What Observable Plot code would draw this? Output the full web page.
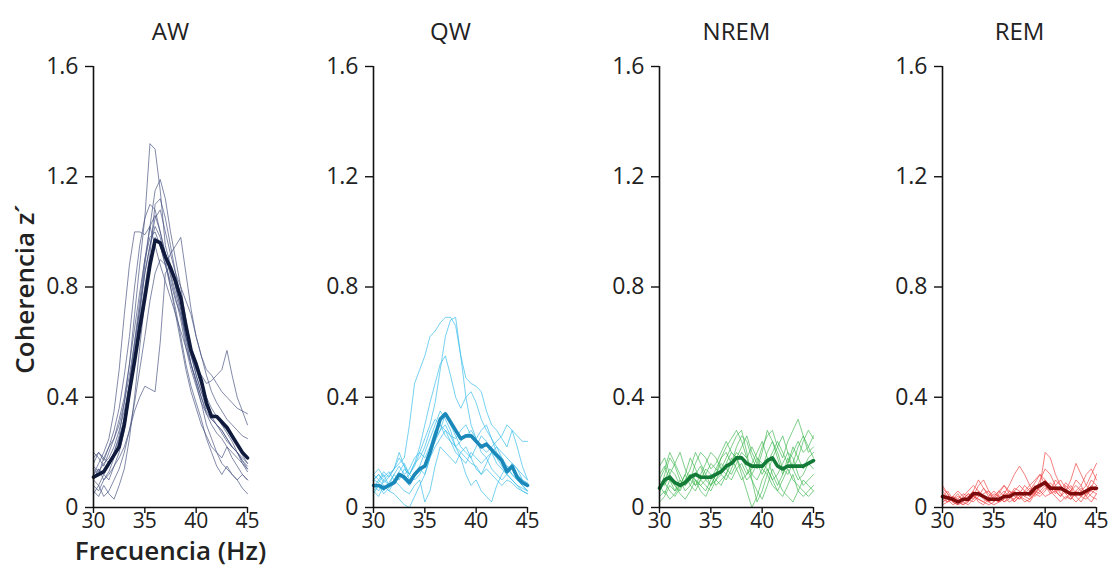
<!DOCTYPE html>
<html>
<head>
<meta charset="utf-8">
<script src="https://cdn.jsdelivr.net/npm/d3@7"></script>
<script src="https://cdn.jsdelivr.net/npm/@observablehq/plot@0.6"></script>
<style>
  html, body { margin: 0; padding: 0; background: #fff; }
  #wrap { position: relative; width: 1116px; height: 571px; overflow: hidden; font-family: "Open Sans", sans-serif; }
  .panel { position: absolute; top: 0; width: 277px; }
  .panel svg { overflow: visible; max-width: none !important; }
</style>
</head>
<body>
<div id="wrap"></div>
<script>
// ---- data ----
const states = ["AW", "QW", "NREM", "REM"];
const freqHz = [30,30.5,31,31.5,32,32.5,33,33.5,34,34.5,35,35.5,36,36.5,37,37.5,38,38.5,39,39.5,40,40.5,41,41.5,42,42.5,43,43.5,44,44.5,45];
const xTicks = [30, 35, 40, 45];
const yTicks = [0, 0.4, 0.8, 1.2, 1.6];
const yLabel = "Coherencia z´";
const xLabel = "Frecuencia (Hz)";

const awMean = [0.11,0.12,0.13,0.16,0.19,0.22,0.30,0.42,0.53,0.65,0.76,0.88,0.97,0.96,0.91,0.87,0.82,0.76,0.66,0.57,0.52,0.46,0.38,0.33,0.33,0.31,0.29,0.26,0.23,0.20,0.18];
const awTraces = [
  [0.10,0.14,0.12,0.15,0.20,0.26,0.38,0.52,0.70,0.88,1.05,1.32,1.30,1.15,0.95,0.88,0.80,0.72,0.62,0.55,0.48,0.42,0.38,0.33,0.30,0.28,0.25,0.22,0.20,0.17,0.15],
  [0.15,0.13,0.16,0.18,0.22,0.28,0.35,0.45,0.58,0.72,0.88,1.02,1.15,1.19,1.12,1.00,0.90,0.80,0.68,0.58,0.50,0.44,0.40,0.36,0.33,0.30,0.27,0.24,0.20,0.17,0.14],
  [0.18,0.20,0.17,0.22,0.28,0.36,0.48,0.62,0.80,0.95,1.05,1.10,1.08,1.00,0.92,0.85,0.78,0.70,0.60,0.52,0.46,0.40,0.35,0.32,0.30,0.28,0.25,0.22,0.20,0.18,0.16],
  [0.12,0.16,0.20,0.25,0.35,0.50,0.70,0.88,1.00,1.00,0.99,1.02,0.95,0.88,0.82,0.76,0.70,0.64,0.58,0.52,0.46,0.40,0.34,0.30,0.27,0.25,0.22,0.20,0.18,0.16,0.14],
  [0.08,0.06,0.10,0.12,0.15,0.18,0.22,0.28,0.35,0.40,0.44,0.43,0.42,0.60,0.85,0.88,0.80,0.72,0.62,0.52,0.45,0.38,0.30,0.25,0.20,0.18,0.22,0.18,0.15,0.12,0.10],
  [0.20,0.18,0.15,0.20,0.25,0.32,0.40,0.52,0.65,0.78,0.90,0.98,1.00,0.95,0.88,0.82,0.75,0.70,0.62,0.55,0.50,0.48,0.45,0.46,0.48,0.50,0.57,0.48,0.40,0.35,0.30],
  [0.10,0.08,0.12,0.10,0.15,0.20,0.28,0.40,0.55,0.70,0.85,0.95,1.02,0.98,0.90,0.80,0.70,0.60,0.50,0.42,0.36,0.30,0.26,0.22,0.20,0.16,0.14,0.12,0.10,0.07,0.05],
  [0.05,0.08,0.04,0.06,0.10,0.14,0.20,0.28,0.38,0.50,0.62,0.75,0.85,0.90,0.88,0.92,0.95,0.98,0.85,0.72,0.62,0.55,0.48,0.42,0.38,0.35,0.32,0.30,0.28,0.26,0.25],
  [0.12,0.14,0.10,0.13,0.18,0.24,0.33,0.45,0.60,0.75,0.90,1.02,1.06,1.00,0.92,0.84,0.76,0.68,0.58,0.50,0.44,0.38,0.34,0.32,0.30,0.27,0.24,0.22,0.20,0.16,0.13],
  [0.06,0.04,0.08,0.05,0.03,0.08,0.14,0.25,0.40,0.58,0.75,0.90,0.98,0.95,0.88,0.80,0.72,0.62,0.52,0.44,0.38,0.32,0.25,0.20,0.15,0.12,0.15,0.12,0.10,0.12,0.10],
  [0.16,0.20,0.18,0.22,0.25,0.30,0.38,0.48,0.60,0.72,0.85,0.95,1.05,1.08,1.00,0.92,0.85,0.80,0.75,0.70,0.62,0.55,0.50,0.48,0.45,0.42,0.40,0.38,0.36,0.35,0.34],
  [0.14,0.12,0.18,0.16,0.20,0.25,0.32,0.42,0.55,0.68,0.80,0.92,1.10,1.12,1.05,0.95,0.85,0.76,0.66,0.56,0.48,0.42,0.36,0.34,0.33,0.30,0.28,0.25,0.22,0.19,0.16]
];

const qwMean = [0.08,0.08,0.07,0.08,0.09,0.12,0.11,0.09,0.12,0.14,0.15,0.20,0.26,0.32,0.34,0.31,0.28,0.25,0.26,0.26,0.24,0.22,0.23,0.21,0.19,0.17,0.13,0.15,0.11,0.09,0.08];
const qwTraces = [
  [0.10,0.12,0.10,0.12,0.14,0.16,0.18,0.30,0.45,0.50,0.55,0.62,0.64,0.67,0.69,0.69,0.66,0.55,0.47,0.45,0.44,0.42,0.35,0.30,0.28,0.25,0.22,0.28,0.26,0.24,0.24],
  [0.06,0.08,0.05,0.07,0.10,0.12,0.10,0.12,0.15,0.20,0.25,0.30,0.38,0.50,0.62,0.68,0.69,0.55,0.40,0.30,0.25,0.28,0.30,0.25,0.20,0.18,0.15,0.14,0.12,0.10,0.08],
  [0.12,0.10,0.13,0.11,0.14,0.18,0.15,0.12,0.16,0.22,0.30,0.38,0.45,0.52,0.55,0.48,0.40,0.36,0.40,0.42,0.38,0.32,0.28,0.25,0.22,0.20,0.18,0.16,0.14,0.12,0.10],
  [0.06,0.04,0.08,0.06,0.05,0.03,0.01,0.00,0.04,0.08,0.12,0.18,0.25,0.28,0.30,0.26,0.22,0.20,0.18,0.16,0.15,0.12,0.14,0.12,0.10,0.08,0.10,0.09,0.07,0.06,0.05],
  [0.10,0.12,0.09,0.11,0.14,0.20,0.15,0.10,0.12,0.15,0.20,0.25,0.30,0.35,0.32,0.28,0.22,0.18,0.12,0.08,0.10,0.06,0.04,0.02,0.08,0.12,0.15,0.12,0.10,0.08,0.06],
  [0.08,0.06,0.10,0.08,0.12,0.10,0.14,0.12,0.16,0.18,0.22,0.28,0.32,0.30,0.28,0.26,0.25,0.28,0.30,0.26,0.24,0.22,0.20,0.22,0.24,0.26,0.30,0.28,0.22,0.15,0.10],
  [0.12,0.14,0.11,0.13,0.10,0.08,0.06,0.05,0.08,0.10,0.02,0.06,0.15,0.22,0.20,0.18,0.16,0.20,0.22,0.18,0.14,0.12,0.16,0.20,0.18,0.15,0.12,0.10,0.08,0.07,0.06],
  [0.05,0.08,0.06,0.09,0.12,0.15,0.12,0.14,0.18,0.20,0.18,0.22,0.28,0.30,0.26,0.24,0.22,0.24,0.26,0.28,0.25,0.20,0.18,0.20,0.22,0.18,0.14,0.12,0.10,0.08,0.06],
  [0.10,0.09,0.12,0.08,0.10,0.13,0.16,0.12,0.10,0.12,0.16,0.20,0.24,0.28,0.34,0.30,0.26,0.22,0.20,0.18,0.22,0.26,0.24,0.20,0.16,0.14,0.12,0.16,0.14,0.10,0.09],
  [0.07,0.10,0.08,0.06,0.09,0.12,0.10,0.08,0.11,0.14,0.12,0.18,0.22,0.25,0.28,0.24,0.20,0.18,0.16,0.20,0.18,0.16,0.18,0.14,0.12,0.10,0.12,0.10,0.08,0.06,0.05]
];

const nremMean = [0.07,0.10,0.11,0.09,0.08,0.09,0.11,0.12,0.11,0.11,0.11,0.12,0.13,0.15,0.16,0.18,0.18,0.16,0.15,0.15,0.15,0.17,0.18,0.15,0.14,0.15,0.15,0.15,0.15,0.16,0.17];
const nremTraces = [
  [0.05,0.12,0.18,0.15,0.10,0.06,0.08,0.12,0.15,0.10,0.08,0.12,0.18,0.22,0.25,0.28,0.24,0.18,0.12,0.16,0.22,0.26,0.28,0.22,0.18,0.24,0.28,0.32,0.26,0.20,0.22],
  [0.10,0.08,0.12,0.16,0.20,0.14,0.10,0.08,0.12,0.16,0.20,0.18,0.14,0.18,0.22,0.26,0.28,0.20,0.10,0.02,0.06,0.12,0.18,0.22,0.26,0.20,0.14,0.18,0.24,0.28,0.25],
  [0.08,0.05,0.10,0.08,0.05,0.03,0.06,0.10,0.08,0.06,0.10,0.14,0.12,0.10,0.14,0.18,0.12,0.06,0.00,0.04,0.10,0.14,0.10,0.06,0.04,0.08,0.12,0.06,0.04,0.06,0.08],
  [0.12,0.15,0.10,0.06,0.08,0.12,0.18,0.14,0.10,0.12,0.16,0.14,0.18,0.20,0.16,0.22,0.26,0.24,0.18,0.14,0.20,0.28,0.24,0.18,0.12,0.16,0.22,0.18,0.14,0.18,0.20],
  [0.06,0.10,0.14,0.12,0.08,0.10,0.14,0.20,0.16,0.12,0.08,0.10,0.14,0.12,0.16,0.20,0.18,0.14,0.10,0.06,0.03,0.08,0.14,0.10,0.06,0.04,0.02,0.06,0.10,0.08,0.06],
  [0.02,0.04,0.08,0.06,0.10,0.08,0.12,0.10,0.06,0.04,0.08,0.12,0.16,0.14,0.12,0.16,0.20,0.18,0.22,0.18,0.14,0.20,0.24,0.20,0.14,0.12,0.16,0.22,0.26,0.22,0.18],
  [0.15,0.18,0.12,0.08,0.06,0.10,0.12,0.08,0.10,0.14,0.12,0.08,0.10,0.12,0.18,0.14,0.10,0.12,0.16,0.20,0.24,0.18,0.12,0.08,0.12,0.18,0.14,0.10,0.12,0.16,0.14],
  [0.04,0.06,0.03,0.05,0.08,0.12,0.08,0.06,0.10,0.08,0.06,0.10,0.08,0.12,0.10,0.14,0.16,0.12,0.14,0.18,0.16,0.14,0.10,0.12,0.16,0.20,0.18,0.12,0.08,0.10,0.12],
  [0.10,0.14,0.20,0.16,0.12,0.08,0.10,0.16,0.20,0.18,0.14,0.16,0.20,0.24,0.20,0.18,0.22,0.26,0.20,0.16,0.12,0.16,0.20,0.24,0.20,0.16,0.20,0.24,0.20,0.22,0.26],
  [0.07,0.09,0.06,0.04,0.07,0.09,0.12,0.10,0.08,0.10,0.12,0.10,0.12,0.16,0.20,0.18,0.14,0.10,0.12,0.10,0.14,0.12,0.08,0.06,0.10,0.14,0.10,0.08,0.06,0.04,0.06]
];

const remMean = [0.04,0.035,0.03,0.02,0.03,0.03,0.05,0.05,0.04,0.03,0.03,0.03,0.04,0.04,0.05,0.05,0.05,0.05,0.07,0.08,0.09,0.07,0.07,0.07,0.06,0.05,0.05,0.05,0.06,0.07,0.07];
const remTraces = [
  [0.08,0.05,0.02,0.01,0.03,0.05,0.04,0.08,0.10,0.06,0.03,0.02,0.05,0.08,0.12,0.15,0.12,0.08,0.05,0.08,0.20,0.18,0.12,0.08,0.06,0.10,0.16,0.12,0.08,0.12,0.16],
  [0.03,0.02,0.04,0.03,0.01,0.02,0.06,0.10,0.07,0.04,0.02,0.05,0.08,0.06,0.04,0.03,0.06,0.08,0.10,0.12,0.10,0.08,0.06,0.04,0.06,0.08,0.05,0.04,0.06,0.10,0.08],
  [0.06,0.04,0.03,0.05,0.02,0.01,0.03,0.05,0.03,0.02,0.04,0.06,0.08,0.05,0.02,0.04,0.03,0.02,0.05,0.08,0.10,0.06,0.04,0.02,0.04,0.03,0.06,0.08,0.04,0.02,0.05],
  [0.02,0.03,0.01,0.02,0.04,0.06,0.08,0.06,0.04,0.02,0.01,0.02,0.03,0.05,0.06,0.04,0.02,0.03,0.06,0.10,0.14,0.12,0.08,0.05,0.03,0.06,0.10,0.08,0.12,0.14,0.10],
  [0.04,0.06,0.03,0.02,0.01,0.03,0.05,0.02,0.01,0.03,0.05,0.04,0.02,0.03,0.06,0.08,0.06,0.04,0.08,0.06,0.04,0.05,0.08,0.10,0.07,0.04,0.02,0.04,0.06,0.04,0.03],
  [0.05,0.03,0.04,0.06,0.04,0.03,0.02,0.04,0.07,0.05,0.03,0.06,0.04,0.02,0.03,0.05,0.08,0.06,0.04,0.06,0.08,0.06,0.10,0.08,0.05,0.03,0.05,0.07,0.05,0.08,0.06],
  [0.01,0.02,0.04,0.02,0.03,0.02,0.04,0.03,0.02,0.04,0.06,0.04,0.02,0.04,0.03,0.06,0.04,0.06,0.09,0.12,0.08,0.05,0.06,0.04,0.08,0.06,0.04,0.02,0.05,0.06,0.08],
  [0.07,0.05,0.02,0.03,0.05,0.04,0.06,0.04,0.05,0.06,0.04,0.02,0.03,0.06,0.05,0.03,0.05,0.07,0.05,0.04,0.06,0.09,0.07,0.06,0.09,0.07,0.04,0.06,0.08,0.06,0.05],
  [0.03,0.04,0.02,0.01,0.02,0.04,0.03,0.06,0.04,0.02,0.03,0.02,0.05,0.04,0.07,0.06,0.04,0.03,0.05,0.07,0.09,0.07,0.05,0.08,0.06,0.04,0.06,0.04,0.03,0.05,0.07],
  [0.04,0.02,0.03,0.04,0.03,0.05,0.04,0.03,0.02,0.01,0.02,0.04,0.06,0.04,0.02,0.04,0.06,0.04,0.06,0.05,0.07,0.08,0.06,0.07,0.05,0.06,0.08,0.06,0.04,0.07,0.12]
];

const thinColors = ["#44517f", "#33bbea", "#40b851", "#ef4040"];
const meanColors = ["#0f1a3c", "#1a88b8", "#137a38", "#7e0b0b"];

// ---- drawing ----
const panelLefts = [0, 280, 566, 849];
const allTraces = [awTraces, qwTraces, nremTraces, remTraces];
const allMeans = [awMean, qwMean, nremMean, remMean];

function toRows(traces) {
  const rows = [];
  traces.forEach((t, i) => t.forEach((v, j) => rows.push({f: freqHz[j], v, id: i})));
  return rows;
}

const wrap = document.getElementById("wrap");
states.forEach((name, k) => {
  const rows = toRows(allTraces[k]);
  const meanRows = allMeans[k].map((v, j) => ({f: freqHz[j], v}));
  const marks = [
    Plot.line(rows, {x: "f", y: "v", z: "id", stroke: thinColors[k], strokeWidth: 0.9, strokeOpacity: 0.75}),
    Plot.line(meanRows, {x: "f", y: "v", stroke: meanColors[k], strokeWidth: 3.6, strokeLinejoin: "round"}),
    Plot.ruleX([30], {stroke: "#111", strokeWidth: 1.6}),
    Plot.ruleY([0], {stroke: "#111", strokeWidth: 1.6}),
    Plot.axisX({ticks: xTicks, tickSize: 6, tickPadding: 0, fontSize: 21, label: null, stroke: "#111", strokeWidth: 1.4, fill: "#222"}),
    Plot.axisY({ticks: yTicks, tickSize: 8, tickPadding: 7, fontSize: 23, label: null, tickFormat: d => d === 0 ? "0" : d.toFixed(1), stroke: "#111", strokeWidth: 1.4, fill: "#222"}),
    Plot.text([name], {frameAnchor: "top", dy: -44, fontSize: 24, fill: "#222"})
  ];
  if (k === 0) {
    marks.push(Plot.text([yLabel], {frameAnchor: "left", textAnchor: "middle", dx: -68, dy: 2, rotate: -90, fontSize: 26, fontWeight: 600, fill: "#222"}));
    marks.push(Plot.text([xLabel], {frameAnchor: "bottom", dy: 52, fontSize: 26, fontWeight: 600, fill: "#222"}));
  }
  const svg = Plot.plot({
    width: 277, height: 571,
    marginLeft: 93, marginRight: 30, marginTop: 66, marginBottom: 64,
    style: {fontFamily: "'Open Sans', sans-serif", background: "transparent", overflow: "visible", maxWidth: "none"},
    x: {domain: [30, 45]},
    y: {domain: [0, 1.6]},
    marks
  });
  const div = document.createElement("div");
  div.className = "panel";
  div.style.left = panelLefts[k] + "px";
  div.appendChild(svg);
  wrap.appendChild(div);
});
</script>
</body>
</html>
